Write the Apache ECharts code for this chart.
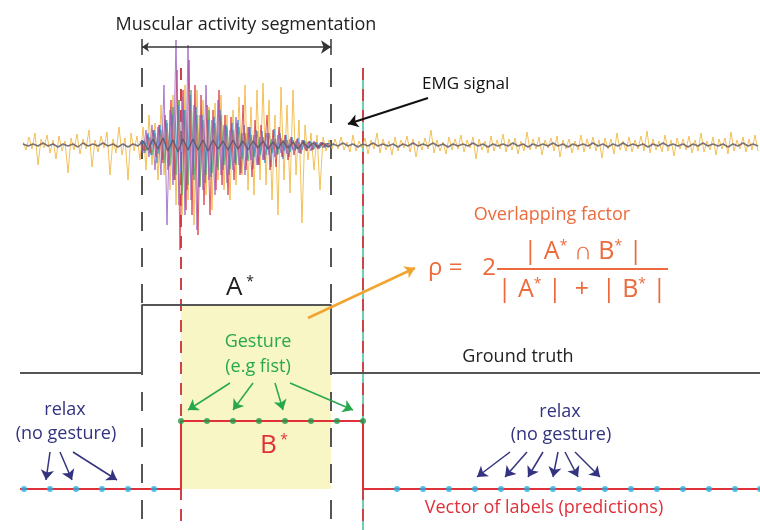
<!DOCTYPE html>
<html>
<head>
<meta charset="utf-8">
<script src="https://cdn.jsdelivr.net/npm/echarts@6/dist/echarts.min.js"></script>
<style>
    html, body { margin: 0; padding: 0; background: #fff; }
    #chart { width: 760px; height: 530px; }
</style>
</head>
<body>
<div id="chart"></div>
<script>
// ---- EMG channels (amplitude, 0 = baseline), sampled every few px of the time line ----
var yellowStart = 23, yellowStep = 3;
var yellowEmg = [
    3,-5,8,-4,12,-20,6,-3,10,-8,5,-14,9,-6,4,-28,7,-5,11,-9,6,-4,15,-22,5,-7,9,-3,13,-30,6,-8,18,-10,7,-35,12,-6,9,-15,
    18,-25,30,-20,22,-35,40,-30,25,-45,
    50,-60,45,-70,60,-55,35,-80,55,-40,
    45,-50,38,-65,42,-35,50,-45,30,-55,
    35,-40,48,-30,60,-45,38,-50,55,-35,
    62,-40,45,-55,30,-70,58,-35,40,-48,
    55,-30,25,-78,20,-15,12,-25,10,-45,8,-6,5,-4,
    6,-4,8,-5,3,-7,10,-6,4,-3,7,-9,5,-4,12,-8,6,-5,4,-10,
    8,-6,5,-3,9,-7,6,-12,4,-5,7,-4,15,-8,5,-6,3,-9,8,-5,
    6,-4,10,-7,5,-3,8,-14,6,-5,4,-8,9,-6,5,-4,11,-7,6,-5,
    7,-9,4,-6,13,-5,6,-4,8,-10,5,-3,7,-6,9,-12,5,-4,6,-8,
    4,-5,10,-7,6,-4,8,-6,5,-13,7,-4,6,-9,12,-5,4,-6,8,-7,
    5,-4,9,-6,14,-8,6,-5,4,-7,10,-6,5,-11,7,-4,6,-5,9,-8,
    5,-6,12,-7,4,-5,8,-10,6,-4,7,-9,13,-6,5,-4,8,-7,6,-5,10,-6
];
var burstStep = 3;
var purpleEmg = [
    4,-8,15,-12,20,-25,18,-30,60,-80,
    35,-40,105,-60,48,-70,100,-55,40,-85,
    30,-45,60,-35,25,-50,45,-30,20,-38,
    15,-25,28,-20,12,-30,18,-15,10,-20,
    8,-15,12,-10,6,-12,10,-8,5,-9,
    6,-5,4,-8,5,-4,3,-6,4,-3,2,-3,2,-2
];
var redEmg = [
    3,-6,10,-8,15,-12,20,-18,30,-25,
    45,-35,75,-105,55,-65,85,-70,60,-90,
    50,-60,40,-70,35,-45,55,-40,30,-50,
    28,-35,22,-30,40,-25,18,-32,25,-20,
    20,-15,30,-25,15,-22,18,-12,10,-15,
    8,-10,6,-8,5,-6,4,-5,3,-4,3,-2,2,-2
];
var blueEmg = [
    5,-8,12,-10,15,-18,20,-15,25,-22,
    30,-35,40,-28,35,-45,50,-30,38,-42,
    30,-38,25,-32,28,-22,35,-25,20,-30,
    22,-18,25,-28,20,-15,18,-24,15,-20,
    14,-18,12,-22,16,-10,12,-14,10,-12,
    8,-6,7,-9,5,-6,4,-5,3,-4,3,-3,2,-2
];
var greenEmg = [
    4,-6,8,-10,12,-9,15,-18,22,-20,
    38,-30,45,-50,35,-40,55,-35,30,-42,
    25,-30,35,-28,22,-25,30,-20,18,-24,
    15,-20,18,-14,12,-16,10,-12,14,-10,
    8,-10,12,-8,6,-9,7,-6,5,-7,
    5,-4,3,-5,4,-3,3,-4,2,-3,2,-2,2,-1
];
var channelStarts = { purple: 140, red: 141, blue: 142, green: 143 };
var baseStart = 23, baseStep = 5;
var baseEmg = [
    1,-1,1,-1,2,-1,1,-2,1,-1,1,-2,2,-1,1,-1,2,-1,1,-2,
    1,-2,1,-1,4,-5,6,-4,7,-6,5,-7,6,-5,6,-5,5,-6,5,-4,
    4,-5,5,-4,4,-5,4,-3,4,-4,3,-4,4,-3,3,-4,3,-3,2,-2,
    2,-2,1,-1,2,-1,1,-2,1,-1,2,-1,1,-1,1,-2,1,-1,2,-1,
    1,-1,2,-1,1,-2,1,-1,1,-1,2,-1,1,-2,1,-1,1,-1,2,-1,
    1,-2,1,-1,1,-1,2,-1,1,-2,1,-1,1,-1,2,-1,1,-2,1,-1,
    2,-1,1,-1,1,-2,1,-1,2,-1,1,-1,1,-2,1,-1,2,-1,1,-1,
    1,-2,1,-1,2,-1,1,-1
];

// ---- time line events (px on the shared time axis) ----
var segmentation = [142, 331];     // muscular activity segmentation
var predOnset = 181, predOffset = 363;

// ground truth A* and prediction B* (0 = relax, 1 = gesture)
var gtX = [20, 142, 142, 331, 331, 760];
var gtLevel = [0, 0, 1, 1, 0, 0];
var predX = [20, 181, 181, 363, 363, 760];
var predLevel = [0, 0, 1, 1, 0, 0];

// vector of labels (sample positions)
var relaxLeftX = [24, 50, 76, 102, 128, 154];
var gestureX = [181, 207, 233, 259, 285, 311, 337, 363];
var relaxRightX = [397, 423, 449, 475, 501, 527, 553, 579, 605, 631, 657, 683, 709, 735, 760];

var font = '"Open Sans", sans-serif';

var toSeries = function (start, step, vals) {
    return vals.map(function (v, i) {
        return [start + step * i, v];
    });
};
var zip = function (xs, ys) {
    return xs.map(function (x, i) { return [x, ys[i]]; });
};
var dots = function (xs, level) {
    return xs.map(function (x) { return [x, level]; });
};

var emgLine = function (name, data, color, width, z) {
    return {
        name: name, type: 'line', xAxisIndex: 0, yAxisIndex: 0,
        data: data, showSymbol: false, silent: true, z: z || 3,
        lineStyle: { color: color, width: width, opacity: 0.8 }
    };
};

// annotation lines / arrows (overlay px)
var arrow = function (coords, color, width, sym, z, dash) {
    return {
        type: 'lines', coordinateSystem: 'cartesian2d', xAxisIndex: 3, yAxisIndex: 3,
        symbol: sym || ['none', 'arrow'], symbolSize: [7, 10], silent: true, z: z || 8,
        lineStyle: { color: color, width: width, opacity: 1, type: dash || 'solid' },
        data: coords.map(function (c) { return { coords: c }; })
    };
};
var vline = function (x) { return [[x, 68], [x, 530]]; };

var chart = echarts.init(document.getElementById('chart'));

var axisX = function (i) {
    return { type: 'value', gridIndex: i, min: 0, max: 760, show: false };
};

var text = function (x, y, str, size, color, align, rich) {
    return {
        type: 'text', x: x, y: y, z: 20,
        style: {
            text: str, fill: color, fontSize: size, fontFamily: font,
            align: align || 'center', verticalAlign: 'middle', rich: rich
        }
    };
};
var sup = function (size, color) {
    return {
        t: { fontSize: size, fontFamily: font, color: color },
        s: { fontSize: Math.round(size * 0.55), fontFamily: font, color: color, verticalAlign: 'top' }
    };
};

var orange = '#ec6a3c', navy = '#33337f', green = '#27a84a', red = '#e0303a';

var option = {
    backgroundColor: '#fff',
    animation: false,
    grid: [
        { left: 0, right: 0, top: 40, height: 210 },   // EMG
        { left: 0, right: 0, top: 305, height: 68 },   // ground truth
        { left: 0, right: 0, top: 421, height: 68 },   // predictions
        { left: 0, right: 0, top: 0, bottom: 0 }       // overlay
    ],
    xAxis: [axisX(0), axisX(1), axisX(2), axisX(3)],
    yAxis: [
        { type: 'value', gridIndex: 0, min: -105, max: 105, show: false },
        { type: 'value', gridIndex: 1, min: 0, max: 1, show: false },
        { type: 'value', gridIndex: 2, min: 0, max: 1, show: false },
        { type: 'value', gridIndex: 3, min: 0, max: 530, inverse: true, show: false }
    ],
    series: [
        // yellow gesture box
        {
            type: 'custom', xAxisIndex: 3, yAxisIndex: 3, z: 0, silent: true,
            renderItem: function (params, api) {
                var p0 = api.coord([api.value(0), api.value(1)]);
                var p1 = api.coord([api.value(2), api.value(3)]);
                return {
                    type: 'rect',
                    shape: { x: p0[0], y: p0[1], width: p1[0] - p0[0], height: p1[1] - p0[1] },
                    style: { fill: '#f8f6c4' }
                };
            },
            data: [[predOnset, 305, segmentation[1], 489]]
        },
        // vertical markers
        arrow(segmentation.map(vline), '#555', 2, ['none', 'none'], 1, [19, 17]),
        arrow([vline(predOffset)], '#6ccfae', 2, ['none', 'none'], 1),
        arrow([vline(predOnset), vline(predOffset)], '#cc4448', 2, ['none', 'none'], 1, [12, 9]),

        emgLine('yellow', toSeries(yellowStart, yellowStep, yellowEmg), '#f0b232', 1),
        emgLine('green', toSeries(channelStarts.green, burstStep, greenEmg), '#4aa860', 1),
        emgLine('blue', toSeries(channelStarts.blue, burstStep, blueEmg), '#2f8fd8', 1),
        emgLine('red', toSeries(channelStarts.red, burstStep, redEmg), '#d8343c', 1),
        emgLine('purple', toSeries(channelStarts.purple, burstStep, purpleEmg), '#9a5cc0', 1),
        emgLine('base', toSeries(baseStart, baseStep, baseEmg), '#5a5262', 1.5, 4),

        // ground truth
        {
            type: 'line', xAxisIndex: 1, yAxisIndex: 1, data: zip(gtX, gtLevel),
            showSymbol: false, silent: true, z: 5,
            lineStyle: { color: '#555', width: 2 }
        },
        // predictions
        {
            type: 'line', xAxisIndex: 2, yAxisIndex: 2, data: zip(predX, predLevel),
            showSymbol: false, silent: true, z: 5,
            lineStyle: { color: red, width: 2 }
        },
        {
            type: 'scatter', xAxisIndex: 2, yAxisIndex: 2, symbolSize: 6, z: 6, silent: true,
            itemStyle: { color: '#29aee0' },
            data: dots(relaxLeftX, 0).concat(dots(relaxRightX, 0))
        },
        {
            type: 'scatter', xAxisIndex: 2, yAxisIndex: 2, symbolSize: 6, z: 6, silent: true,
            itemStyle: { color: '#1f9a48' },
            data: dots(gestureX, 1)
        },

        // arrows
        arrow([[[segmentation[0], 47], [segmentation[1], 47]]], '#333', 1.5, ['arrow', 'arrow']),
        arrow([[[segmentation[0], 39], [segmentation[0], 55]], [[segmentation[1], 39], [segmentation[1], 55]]], '#333', 1.5, ['none', 'none']),
        arrow([[[428, 98], [348, 124]]], '#111', 2),
        arrow([[[308, 318], [415, 268]]], '#f2a430', 2.5),
        arrow([[[230, 383], [188, 410]], [[253, 383], [233, 410]], [[275, 383], [283, 410]], [[290, 383], [353, 410]]], green, 1.5),
        arrow([[[50, 452], [46, 480]], [[60, 452], [72, 480]], [[73, 452], [117, 480]]], navy, 1.5),
        arrow([[[510, 452], [477, 477]], [[527, 452], [505, 477]], [[543, 452], [528, 477]],
               [[558, 452], [553, 477]], [[565, 452], [578, 477]], [[575, 452], [600, 477]]], navy, 1.5)
    ],
    graphic: [
        text(246, 25, 'Muscular activity segmentation', 18, '#222'),
        text(422, 84, 'EMG signal', 17, '#111', 'left'),
        text(552, 215, 'Overlapping factor', 18, orange),
        text(428, 268, 'ρ =', 24, orange, 'left'),
        text(489, 268, '2', 24, orange),
        text(583, 252, '{t|| A}{s|*}{t| ∩ B}{s|*}{t| |}', 25, orange, 'center', sup(25, orange)),
        { type: 'line', z: 20, shape: { x1: 497, y1: 269, x2: 668, y2: 269 }, style: { stroke: orange, lineWidth: 2 } },
        text(582, 290, '{t|| A}{s|*}{t| |  +  | B}{s|*}{t| |}', 25, orange, 'center', sup(25, orange)),
        text(240, 288, '{t|A}{s| *}', 26, '#222', 'center', sup(26, '#222')),
        text(274, 446, '{t|B}{s| *}', 26, red, 'center', sup(26, red)),
        text(258, 342, 'Gesture', 18, green),
        text(258, 367, '(e.g fist)', 18, green),
        text(518, 357, 'Ground truth', 18, '#222'),
        text(65, 410, 'relax', 18, navy),
        text(66, 434, '(no gesture)', 18, navy),
        text(560, 412, 'relax', 18, navy),
        text(561, 435, '(no gesture)', 18, navy),
        text(544, 508, 'Vector of labels (predictions)', 18, red)
    ]
};

chart.setOption(option);
</script>
</body>
</html>
